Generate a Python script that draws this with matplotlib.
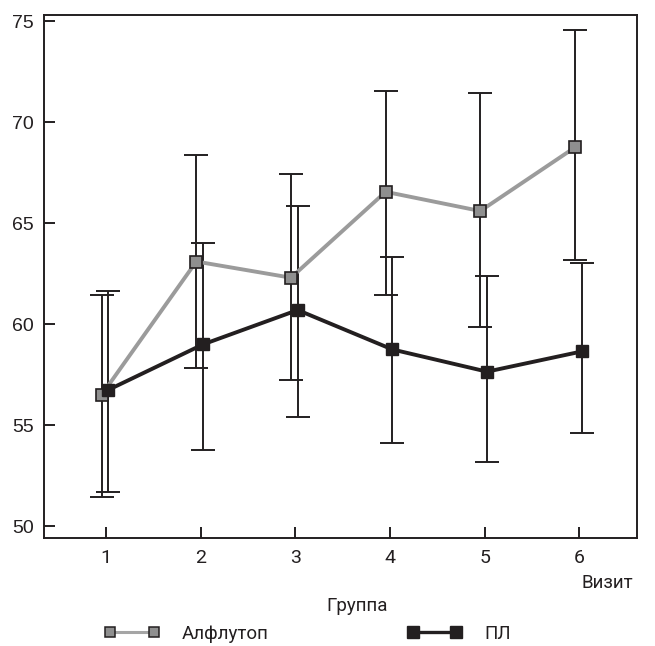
import matplotlib
matplotlib.use("Agg")
import matplotlib.pyplot as plt
from matplotlib.lines import Line2D
import numpy as np

visits = [1, 2, 3, 4, 5, 6]
alf_mean = [56.5, 63.1, 62.3, 66.55, 65.6, 68.75]
alf_upper = [61.45, 68.35, 67.45, 71.55, 71.45, 74.55]
alf_lower = [51.45, 57.85, 57.25, 61.45, 59.85, 63.2]
pl_mean = [56.75, 59.0, 60.7, 58.75, 57.65, 58.65]
pl_upper = [61.65, 64.0, 65.85, 63.3, 62.4, 63.05]
pl_lower = [51.7, 53.75, 55.4, 54.1, 53.2, 54.6]
y_ticks = [50, 55, 60, 65, 70, 75]
labels = ["Алфлутоп", "ПЛ"]

INK = "#231f20"
GREY_LINE = "#9b9b9b"
GREY_FILL = "#8f8f8f"
REG = ["Liberation Sans", "DejaVu Sans"]
COND = ["Roboto", "Liberation Sans", "DejaVu Sans"]

fig = plt.figure(figsize=(6.55, 6.46), dpi=100)
ax = fig.add_axes([0.067, 0.1672, 0.9055, 0.8096])

x = np.array(visits, dtype=float)
xa = x - 0.045
xp = x + 0.026
am = np.array(alf_mean); pm = np.array(pl_mean)
aerr = [am - np.array(alf_lower), np.array(alf_upper) - am]
perr = [pm - np.array(pl_lower), np.array(pl_upper) - pm]

ax.errorbar(xa, am, yerr=aerr, fmt="none", ecolor=INK, elinewidth=1.4,
            capsize=8.5, capthick=1.4, zorder=2)
ax.errorbar(xp, pm, yerr=perr, fmt="none", ecolor=INK, elinewidth=1.4,
            capsize=8.5, capthick=1.4, zorder=2)
ax.plot(xa, am, color=GREY_LINE, lw=2.8, zorder=3)
ax.plot(xp, pm, color=INK, lw=2.8, zorder=3)
ax.plot(xa, am, ls="none", marker="s", ms=8.5, mfc=GREY_FILL, mec=INK,
        mew=1.2, zorder=4)
ax.plot(xp, pm, ls="none", marker="s", ms=9, mfc=INK, mec=INK, zorder=4)

ax.set_xlim(0.345, 6.61)
ax.set_ylim(49.42, 75.3)
ax.set_xticks(visits)
ax.set_yticks(y_ticks)
ax.tick_params(direction="in", length=8, width=1.4, color=INK)
ax.tick_params(axis="y", pad=7)
ax.tick_params(axis="x", pad=8)
for lab in ax.get_yticklabels():
    lab.set_family(REG); lab.set_fontsize(14); lab.set_color(INK)
for lab in ax.get_xticklabels():
    lab.set_family(COND); lab.set_fontsize(14); lab.set_color(INK)
for sp in ax.spines.values():
    sp.set_linewidth(1.4)
    sp.set_color(INK)

fig.text(0.966, 0.0975, "Визит", ha="right", va="center", family=COND,
         fontsize=13.5, color=INK)
fig.text(0.545, 0.062, "Группа", ha="center", va="center", family=COND,
         fontsize=13.5, color=INK)

h1 = Line2D([], [], color="#a5a5a5", lw=2.2, marker="s", ms=7.5,
            mfc=GREY_FILL, mec=INK, mew=1.1)
h2 = Line2D([], [], color=INK, lw=2.4, marker="s", ms=8, mfc=INK, mec=INK)
for h, lab, xpos in [(h1, labels[0], 0.160), (h2, labels[1], 0.622)]:
    leg = fig.legend([h], [lab], loc="center left", bbox_to_anchor=(xpos, 0.0186),
                     frameon=False, numpoints=2, handlelength=2.9,
                     handletextpad=1.2, borderpad=0, borderaxespad=0,
                     prop={"family": COND, "size": 13.5})
    for t in leg.get_texts():
        t.set_color(INK)

fig.savefig("out.png", dpi=100)
